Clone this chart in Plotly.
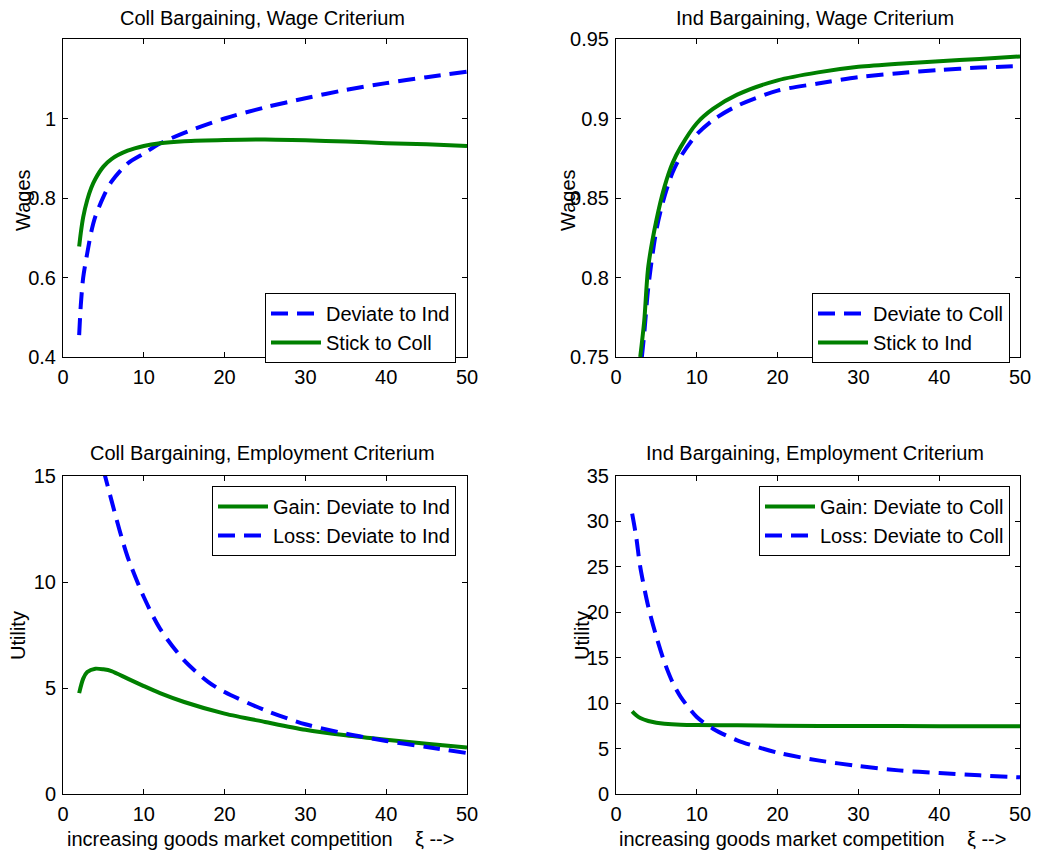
import plotly.graph_objects as go

# ---------------- data ----------------
# Top-left: Coll Bargaining, Wage Criterium
tl_x_dev = [2, 2.2, 2.5, 3, 3.5, 4, 5, 6, 8, 10, 12, 15, 20, 25, 30, 35, 40, 45, 50]
tl_dev_ind = [0.455, 0.53, 0.6, 0.661, 0.715, 0.753, 0.803, 0.841, 0.887, 0.912, 0.937, 0.964,
              1.0, 1.028, 1.051, 1.072, 1.089, 1.104, 1.118]
tl_x_stick = [2, 2.2, 2.5, 3, 3.5, 4, 5, 6, 8, 10, 12, 15, 20, 25, 30, 35, 40, 45, 50]
tl_stick_coll = [0.678, 0.712, 0.752, 0.795, 0.826, 0.848, 0.879, 0.898, 0.919, 0.931, 0.938, 0.943,
                 0.946, 0.947, 0.945, 0.942, 0.938, 0.935, 0.931]

# Top-right: Ind Bargaining, Wage Criterium
tr_x_dev = [3.2, 3.5, 4, 5, 6, 7, 8, 10, 12, 15, 20, 25, 30, 35, 40, 45, 50]
tr_dev_coll = [0.75, 0.765, 0.794, 0.830, 0.851, 0.866, 0.876, 0.890, 0.899, 0.908, 0.9175,
               0.922, 0.926, 0.9285, 0.9305, 0.932, 0.933]
tr_x_stick = [3, 3.5, 4, 5, 6, 7, 8, 10, 12, 15, 20, 25, 30, 35, 40, 45, 50]
tr_stick_ind = [0.75, 0.773, 0.807, 0.836, 0.857, 0.872, 0.882, 0.897, 0.906, 0.915, 0.924,
                0.929, 0.9325, 0.9345, 0.936, 0.9375, 0.939]

# Bottom-left: Coll Bargaining, Employment Criterium
bl_x_gain = [2, 2.5, 3, 4, 5, 6, 8, 10, 12, 15, 20, 25, 30, 35, 40, 45, 50]
bl_gain = [4.76, 5.44, 5.75, 5.91, 5.88, 5.80, 5.44, 5.09, 4.76, 4.34, 3.79, 3.40, 3.03, 2.77,
           2.56, 2.37, 2.19]
bl_x_loss = [5, 6, 7, 8, 10, 12, 15, 18, 20, 25, 30, 35, 40, 45, 50]
bl_loss = [15.3, 13.85, 12.44, 11.18, 9.29, 7.80, 6.30, 5.28, 4.81, 3.95, 3.29, 2.85, 2.50,
           2.22, 1.93]

# Bottom-right: Ind Bargaining, Employment Criterium
br_x_gain = [2, 2.5, 3, 4, 5, 6, 8, 10, 15, 20, 30, 40, 50]
br_gain = [9.10, 8.66, 8.36, 8.03, 7.85, 7.74, 7.63, 7.59, 7.56, 7.52, 7.48, 7.47, 7.45]
br_x_loss = [2, 2.5, 3, 4, 5, 6, 7, 8, 10, 12, 15, 20, 25, 30, 35, 40, 45, 50]
br_loss = [30.85, 28.3, 25.0, 20.6, 17.3, 14.5, 12.3, 10.7, 8.47, 7.19, 5.91, 4.55, 3.70, 3.08,
           2.60, 2.31, 2.05, 1.83]

titles = ["Coll Bargaining, Wage Criterium", "Ind Bargaining, Wage Criterium",
          "Coll Bargaining, Employment Criterium", "Ind Bargaining, Employment Criterium"]
x_ticks = [0, 10, 20, 30, 40, 50]
tl_yticks = [0.4, 0.6, 0.8, 1.0]
tr_yticks = [0.75, 0.8, 0.85, 0.9, 0.95]
bl_yticks = [0, 5, 10, 15]
br_yticks = [0, 5, 10, 15, 20, 25, 30, 35]

# ---------------- styling ----------------
W, H = 1037, 857
FONT = "Liberation Sans, Arial, Helvetica, sans-serif"
BLUE = "#0000ff"
GREEN = "#008000"
DASH = "17px,9px"
LW = 4


def px_x(p):
    return p / W


def px_y(p):
    return 1 - p / H


fig = go.Figure()


def add(x, y, name, color, dash, xa, ya, leg):
    fig.add_trace(go.Scatter(
        x=x, y=y, name=name, mode="lines",
        line=dict(color=color, width=LW, dash=dash, shape="spline", smoothing=0.8),
        xaxis=xa, yaxis=ya, legend=leg, cliponaxis=True))


add(tl_x_dev, tl_dev_ind, "Deviate to Ind", BLUE, DASH, "x", "y", "legend")
add(tl_x_stick, tl_stick_coll, "Stick to Coll", GREEN, "solid", "x", "y", "legend")
add(tr_x_dev, tr_dev_coll, "Deviate to Coll", BLUE, DASH, "x2", "y2", "legend2")
add(tr_x_stick, tr_stick_ind, "Stick to Ind", GREEN, "solid", "x2", "y2", "legend2")
add(bl_x_gain, bl_gain, "Gain: Deviate to Ind", GREEN, "solid", "x3", "y3", "legend3")
add(bl_x_loss, bl_loss, "Loss: Deviate to Ind", BLUE, DASH, "x3", "y3", "legend3")
add(br_x_gain, br_gain, "Gain: Deviate to Coll", GREEN, "solid", "x4", "y4", "legend4")
add(br_x_loss, br_loss, "Loss: Deviate to Coll", BLUE, DASH, "x4", "y4", "legend4")

left_dom = [px_x(63), px_x(467)]
right_dom = [px_x(616), px_x(1020)]
top_dom = [px_y(357), px_y(39)]
bot_dom = [px_y(794), px_y(476)]

axis_common = dict(showline=True, linecolor="black", linewidth=1, mirror="ticks",
                   ticks="inside", ticklen=5, tickcolor="black", tickwidth=1,
                   showgrid=False, zeroline=False, automargin=False,
                   tickfont=dict(family=FONT, size=20, color="black"))


def xaxis(dom, anchor):
    return dict(axis_common, domain=dom, anchor=anchor, range=[0, 50],
                tickmode="array", tickvals=x_ticks, ticktext=[str(v) for v in x_ticks],
                ticklabelstandoff=2)


def yaxis(dom, anchor, rng, tv, tt):
    return dict(axis_common, domain=dom, anchor=anchor, range=rng,
                tickmode="array", tickvals=tv, ticktext=tt, ticklabelstandoff=2)


legend_common = dict(bgcolor="white", bordercolor="black", borderwidth=1,
                     font=dict(family=FONT, size=20, color="black"),
                     xanchor="right", yanchor="top", tracegroupgap=0,
                     itemwidth=50, traceorder="normal")

fig.update_layout(
    width=W, height=H,
    margin=dict(l=0, r=0, t=0, b=0, pad=0, autoexpand=False),
    paper_bgcolor="white", plot_bgcolor="white",
    font=dict(family=FONT, size=20, color="black"),
    xaxis=xaxis(left_dom, "y"),
    yaxis=yaxis(top_dom, "x", [0.4, 1.2], tl_yticks, ["0.4", "0.6", "0.8", "1"]),
    xaxis2=xaxis(right_dom, "y2"),
    yaxis2=yaxis(top_dom, "x2", [0.75, 0.95], tr_yticks, ["0.75", "0.8", "0.85", "0.9", "0.95"]),
    xaxis3=xaxis(left_dom, "y3"),
    yaxis3=yaxis(bot_dom, "x3", [0, 15], bl_yticks, [str(v) for v in bl_yticks]),
    xaxis4=xaxis(right_dom, "y4"),
    yaxis4=yaxis(bot_dom, "x4", [0, 35], br_yticks, [str(v) for v in br_yticks]),
    legend=dict(legend_common, x=px_x(456), y=px_y(293)),
    legend2=dict(legend_common, x=px_x(1010), y=px_y(293)),
    legend3=dict(legend_common, x=px_x(456), y=px_y(486)),
    legend4=dict(legend_common, x=px_x(1010), y=px_y(486)),
    showlegend=True,
)

ann = []
title_pos = [(262, 18), (815, 18), (262, 453), (815, 453)]
for t, (cx, cy) in zip(titles, title_pos):
    ann.append(dict(text=t, x=px_x(cx), y=px_y(cy), xref="paper", yref="paper",
                    showarrow=False, xanchor="center", yanchor="middle",
                    font=dict(family=FONT, size=20, color="black")))

ylab_pos = [("Wages", 23, 200), ("Wages", 568, 200), ("Utility", 18, 636), ("Utility", 582, 636)]
for t, cx, cy in ylab_pos:
    ann.append(dict(text=t, x=px_x(cx), y=px_y(cy), xref="paper", yref="paper",
                    showarrow=False, xanchor="center", yanchor="middle", textangle=-90,
                    font=dict(family=FONT, size=20, color="black")))

xlabel = "increasing goods market competition\u00a0\u00a0\u00a0\u00a0\u03be -->"
for cx in (260, 812):
    ann.append(dict(text=xlabel, x=px_x(cx), y=px_y(839), xref="paper", yref="paper",
                    showarrow=False, xanchor="center", yanchor="middle",
                    font=dict(family=FONT, size=20, color="black")))

fig.update_layout(annotations=ann)

fig.write_html("out.html")
